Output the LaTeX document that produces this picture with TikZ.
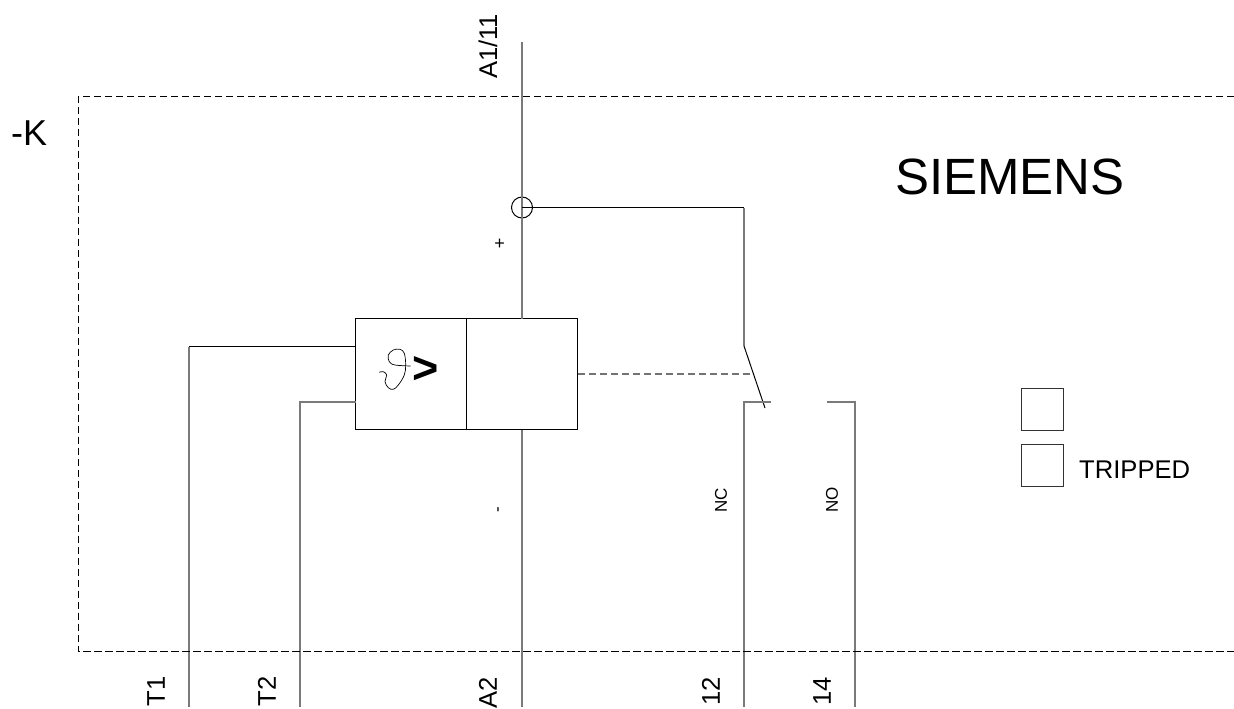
\documentclass[tikz,border=0pt]{standalone}
\usepackage{fontspec}
\setmainfont{Liberation Sans}
\newcommand{\fsz}[1]{\fontsize{#1}{#1}\selectfont}
\tikzset{
  wire/.style={draw=black!52,line width=1.6pt},
  blackline/.style={draw=black,line width=1pt},
  border/.style={draw=black,line width=1pt,dash pattern=on 7.5pt off 3.5pt},
  cell/.style={draw=black,line width=1pt,fill=white,minimum width=111pt,minimum height=111pt,inner sep=0pt,outer sep=0pt},
  lamp/.style={draw=black!80,line width=1pt,minimum size=42pt,inner sep=0pt,outer sep=0pt},
  vlabel/.style={rotate=90,anchor=west,inner sep=0pt,text=black},
}
\begin{document}
\begin{tikzpicture}[x=1pt,y=-1pt]
\useasboundingbox (0,0) rectangle (1234,709);
% borders
\coordinate (bl) at (78,651.5); \coordinate (tl) at (78,96.5);
\coordinate (tr) at (1234,96.5); \coordinate (br) at (1234,651.5);
% coordinates
\coordinate (top) at (522,42);
\coordinate (a2end) at (522,707);
\coordinate (t1end) at (189,707);
\coordinate (t2end) at (300,707);
\coordinate (ncend) at (744,707);
\coordinate (noend) at (855,707);
\coordinate (t1c) at (189,346.5);
\coordinate (t2c) at (300,402);
\coordinate (sw0) at (744,207.5);
\coordinate (sw1) at (744,346);
\coordinate (sw2) at (765,408);
\coordinate (swm) at (753.5,374);
\coordinate (nca) at (771,402);
\coordinate (ncb) at (744,402);
\coordinate (noa) at (827,402);
\coordinate (nob) at (855,402);
% wires
\node[cell] (boxl) at (411,374) {};
\node[cell] (boxr) at (522,374) {};
\node[draw=black,line width=1pt,circle,minimum size=21pt,inner sep=0pt,outer sep=0pt] (junc) at (522,207.5) {};
\draw[wire] (top) -- (boxr.north);
\draw[wire] (boxr.south) -- (a2end);
\draw[blackline] (junc.center) -- (sw0);
\draw[wire] (sw0) -- (sw1);
\draw[blackline] (sw1) -- (sw2);
\draw[blackline] (boxl.west |- t1c) -- (t1c);
\draw[wire] (t1c) -- (t1end);
\draw[wire] (boxl.west |- t2c) -- (t2c) -- (t2end);
\draw[wire] (nca) -- (ncb) -- (ncend);
\draw[wire] (noa) -- (nob) -- (noend);
\draw[border,draw=black!55,line width=1.4pt] (boxr.east) -- (swm);
\draw[border] (tr) -- (tl) -- (bl) -- (br);
% theta symbol
\draw[black,line width=0.7pt] plot[smooth,tension=0.6] coordinates {
(379.3,372.3) (383.3,371.7) (386.7,375) (385,381.7) (388.3,387.7) (393.3,389.3) (398.3,385) (404.3,375) (405.7,365) (404.3,353.3) (400,349.3) (393.3,350) (388.3,355) (389.3,361.7) (395,365) (410.7,366)};
\node[inner sep=0pt,font=\fsz{45}\bfseries] (gt) at (425.8,370) {>};
% lamps
\node[lamp] (lamp1) at (1042,409) {};
\node[lamp] (lamp2) at (1042,465) {};
% texts
\node[anchor=west,inner sep=0pt,font=\fsz{36}] (k) at (11,133) {-K};
\node[anchor=west,inner sep=0pt,font=\fsz{51}] (sie) at (895,177) {SIEMENS};
\node[anchor=west,inner sep=0pt,font=\fsz{25.6}] (trip) at (1079,470) {TRIPPED};
\node[vlabel,font=\fsz{25.6}] (a1) at (488,79) {A1/11};
\node[vlabel,font=\fsz{25.6}] (t1) at (156,706.5) {T1};
\node[vlabel,font=\fsz{25.6}] (t2) at (267,706.5) {T2};
\node[vlabel,font=\fsz{25.6}] (a2) at (488,708.5) {A2};
\node[vlabel,font=\fsz{25.6}] (n12) at (711,706) {12};
\node[vlabel,font=\fsz{25.6}] (n14) at (822,706) {14};
\node[vlabel,font=\fsz{17}] (nc) at (721,513) {NC};
\node[vlabel,font=\fsz{17}] (no) at (832,513) {NO};
\node[inner sep=0pt,font=\fsz{18}] (plus) at (499.5,244.5) {+};
\node[rotate=90,inner sep=0pt,font=\fsz{17}] (minus) at (500,510) {-};
\end{tikzpicture}
\end{document}
